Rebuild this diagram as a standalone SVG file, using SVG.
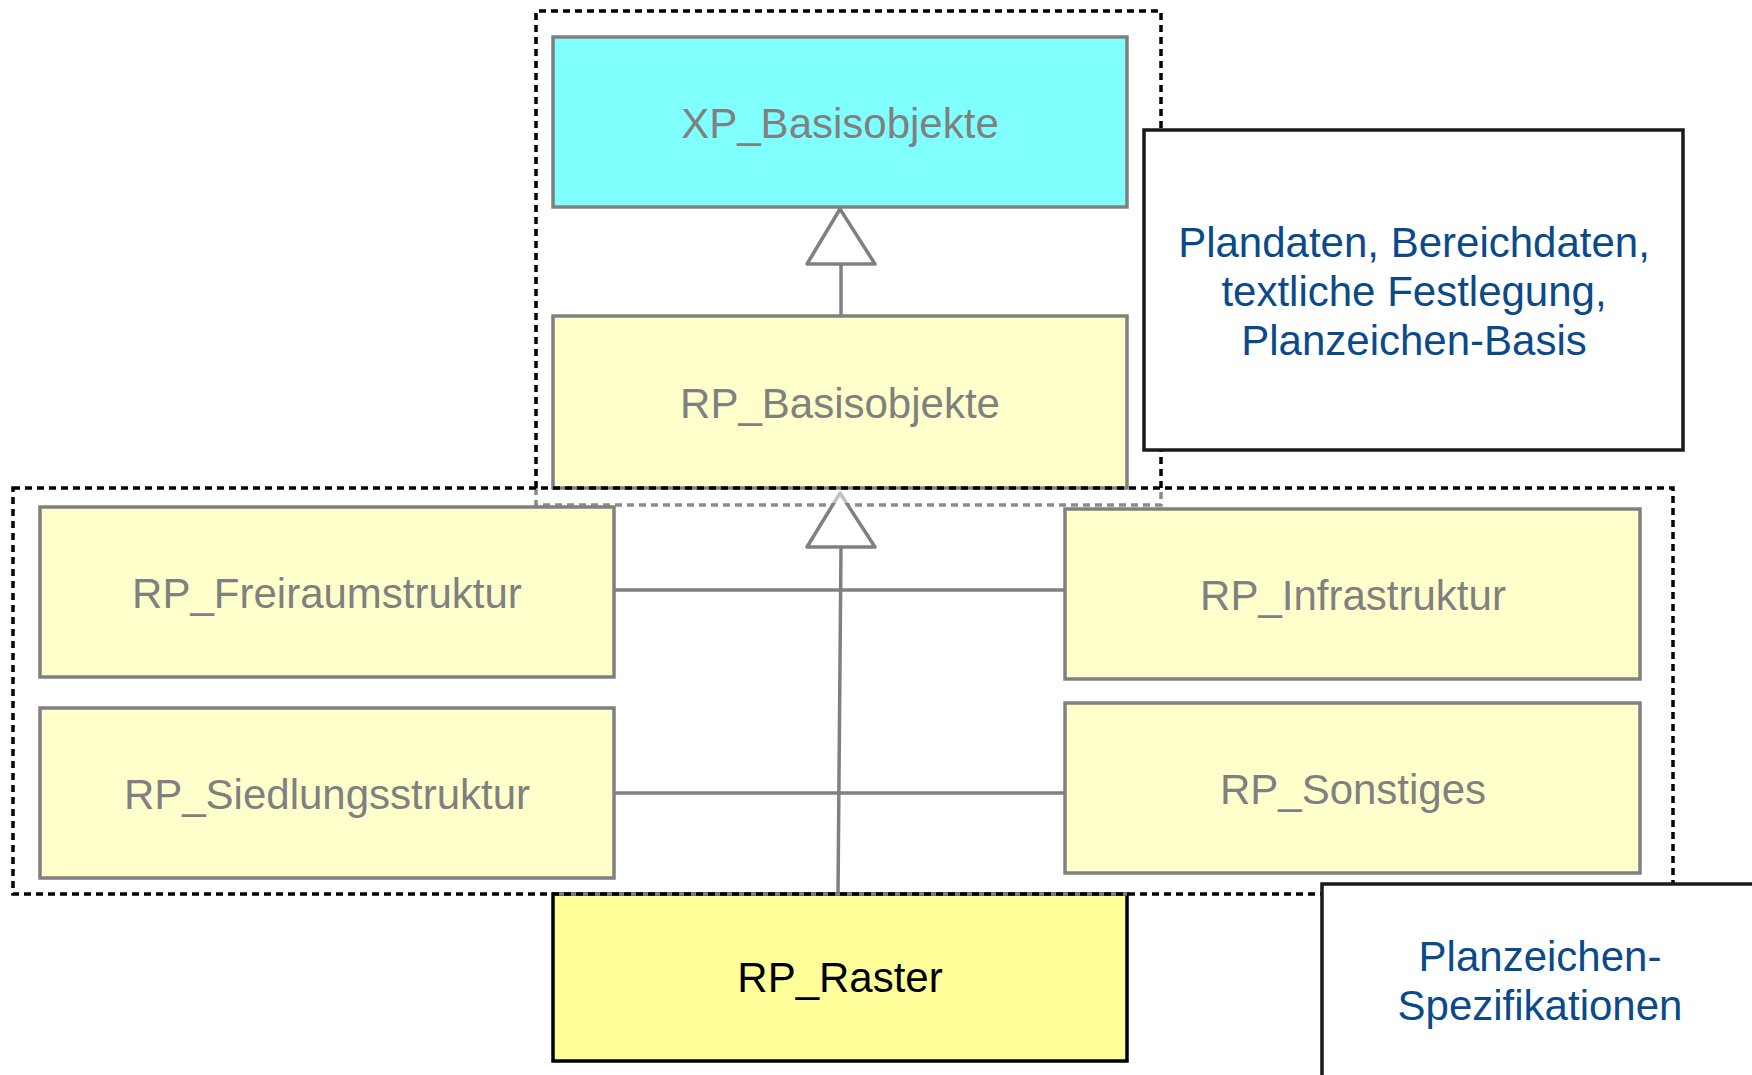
<svg xmlns="http://www.w3.org/2000/svg" width="1752" height="1075" viewBox="0 0 1752 1075">
<defs>
<style>
.node{fill:#FFFFCC;stroke:#808080;stroke-width:3.5}
.lbl{font-family:"Liberation Sans",Arial,sans-serif;font-size:42px;fill:#808080;text-anchor:middle;dominant-baseline:central}
.note{fill:#FFFFFF;stroke:#1a1a1a;stroke-width:3.5}
.ntxt{font-family:"Liberation Sans",Arial,sans-serif;font-size:42px;fill:#0B4A8A;text-anchor:middle}
.dash{fill:none;stroke:#000;stroke-width:3.5;stroke-dasharray:7 5}
.dashg{fill:none;stroke:#8c8c8c;stroke-width:3.5;stroke-dasharray:7 5}
.conn{stroke:#808080;stroke-width:3.5;fill:none}
.tri{fill:#FFFFFF;stroke:#808080;stroke-width:3.5;stroke-linejoin:round}
</style>
</defs>
<g id="package-top">
<path class="dash" d="M536,488 V11 H1161 V488"/>
<path class="dashg" d="M536,488 V505 H1161 V488"/>
</g>
<g id="XP_Basisobjekte">
<rect x="553" y="37" width="574" height="170" fill="#80FFFF" stroke="#808080" stroke-width="3.5"/>
<text class="lbl" x="840" y="123">XP_Basisobjekte</text>
</g>
<g id="RP_Basisobjekte">
<rect class="node" x="553" y="316" width="574" height="172"/>
<text class="lbl" x="840" y="403">RP_Basisobjekte</text>
</g>
<g id="RP_Freiraumstruktur">
<rect class="node" x="40" y="507" width="574" height="170"/>
<text class="lbl" x="327" y="593">RP_Freiraumstruktur</text>
</g>
<g id="RP_Siedlungsstruktur">
<rect class="node" x="40" y="708" width="574" height="170"/>
<text class="lbl" x="327" y="794">RP_Siedlungsstruktur</text>
</g>
<g id="RP_Infrastruktur">
<rect class="node" x="1065" y="509" width="575" height="170"/>
<text class="lbl" x="1353" y="595">RP_Infrastruktur</text>
</g>
<g id="RP_Sonstiges">
<rect class="node" x="1065" y="703" width="575" height="170"/>
<text class="lbl" x="1353" y="789">RP_Sonstiges</text>
</g>
<g id="connectors">
<line class="conn" x1="841" y1="264" x2="841" y2="316"/>
<polygon class="tri" points="840,209 875,264 807,264"/>
<line class="conn" x1="614" y1="590" x2="1065" y2="590"/>
<line class="conn" x1="614" y1="793" x2="1065" y2="793"/>
<line class="conn" x1="841" y1="547" x2="838" y2="894"/>
<polygon class="tri" points="840,493 875,547 807,547"/>
</g>
<g id="RP_Raster">
<rect x="553" y="894" width="574" height="167" fill="#FFFF99" stroke="#000" stroke-width="3.5"/>
<line x1="553" y1="894" x2="1127" y2="894" stroke="#808080" stroke-width="3.5"/>
<text class="lbl" x="840" y="977" fill="#000" style="fill:#000">RP_Raster</text>
</g>
<g id="package-bottom">
<rect class="dash" x="13" y="488" width="1660" height="406"/>
<rect x="538" y="490" width="621" height="13" fill="#FFFFFF" fill-opacity="0.5"/>
</g>
<g id="note-basis">
<rect class="note" x="1144" y="130" width="539" height="320"/>
<text class="ntxt" x="1414" y="257">Plandaten, Bereichdaten,</text>
<text class="ntxt" x="1414" y="306">textliche Festlegung,</text>
<text class="ntxt" x="1414" y="355">Planzeichen-Basis</text>
</g>
<g id="note-spez">
<rect class="note" x="1322" y="884" width="460" height="230"/>
<text class="ntxt" x="1540" y="971">Planzeichen-</text>
<text class="ntxt" x="1540" y="1020">Spezifikationen</text>
</g>
</svg>
